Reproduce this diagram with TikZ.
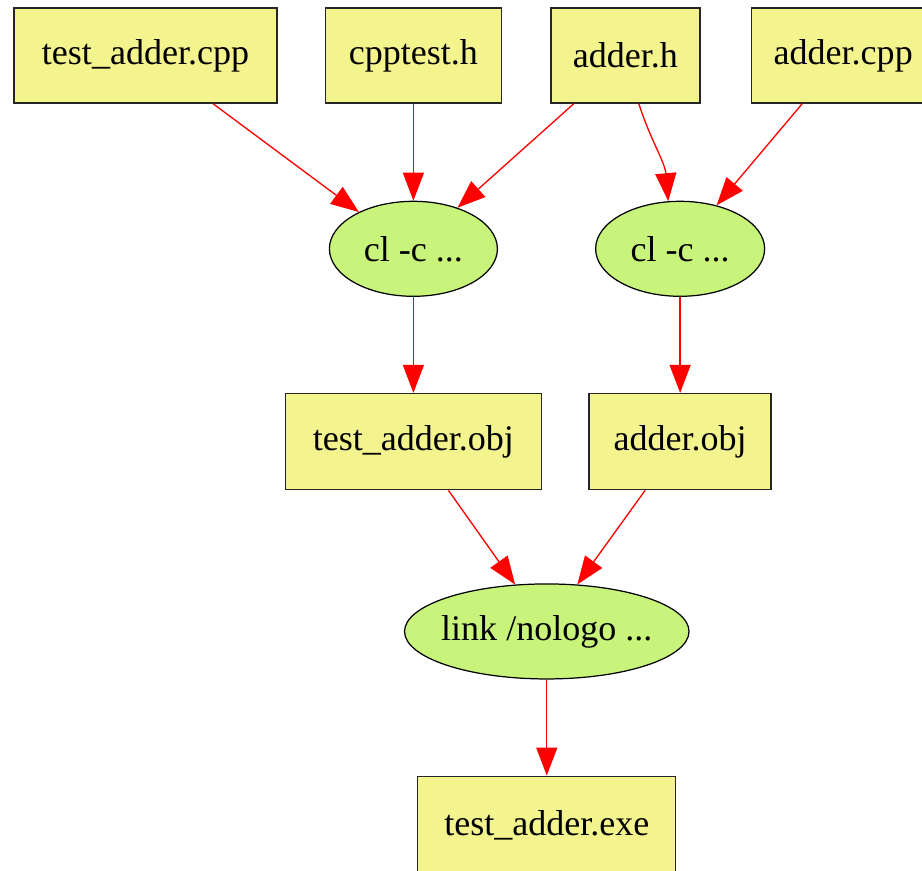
\documentclass[tikz,border=0pt]{standalone}
\usepackage{fontspec}
\setmainfont{Liberation Serif}
\usetikzlibrary{positioning,calc,shapes.geometric,arrows.meta}
\definecolor{filefill}{HTML}{F4F48F}
\definecolor{cmdfill}{HTML}{C9F47B}

\begin{document}
\begin{tikzpicture}[
				file/.style={rectangle, draw=black!85, line width=0.8pt, fill=filefill, minimum height=1.9cm, inner sep=0pt, font=\fontsize{20.5}{24}\selectfont},
				cmd/.style={ellipse, draw=black, line width=0.7pt, fill=cmdfill, minimum width=3.36cm, minimum height=1.9cm, inner sep=0pt, font=\fontsize{20.5}{24}\selectfont},
				dep/.style={draw=red, line width=0.75pt, -{Triangle[length=5.6mm, width=4.2mm]}}
			]
			\useasboundingbox (0,0) rectangle (18.44,-17.42);
			\node[file, minimum width=5.26cm] (tcpp) at (2.91,-1.11) {test\_adder.cpp};
			\node[file, minimum width=3.52cm] (cpptest) [right=0.94cm of tcpp] {cpptest.h};
			\node[file, minimum width=2.98cm] (adderh) [right=0.96cm of cpptest] {adder.h};
			\node[file, minimum width=3.68cm] (addercpp) [right=1cm of adderh] {adder.cpp};
			\node[cmd] (clL) [below=1.94cm of cpptest] {cl -c ...};
			\node[cmd, minimum width=3.38cm] (clR) [right=1.94cm of clL] {cl -c ...};
			\node[file, minimum width=5.12cm, minimum height=1.92cm] (tobj) [below=1.92cm of clL] {test\_adder.obj};
			\node[file, minimum width=3.64cm, minimum height=1.92cm] (aobj) [below=1.92cm of clR] {adder.obj};
			\coordinate (objmid) at ($(tobj.south)!0.5!(aobj.south)$);
			\node[cmd, minimum width=5.64cm, inner xsep=-0.1cm] (link) [below=1.86cm of objmid] {link /nologo ...};
			\node[file, minimum width=5.16cm, minimum height=1.96cm] (exe) [below=1.92cm of link] {test\_adder.exe};
			\begin{scope}[dep]
			\draw ($(tcpp.south)+(1.35,0)$) -- (clL.146);
			\draw (cpptest.south) -- (clL.north);
			\draw ($(adderh.south)+(-1.03,0)$) -- (clL.43);
			\draw ($(adderh.south)+(0.27,0)$) to[out=-72, in=95] (clR.104);
			\draw ($(addercpp.south)+(-0.82,0)$) -- (clR.50);
			\draw (clL.south) -- (tobj.north);
			\draw (clR.south) -- (aobj.north);
			\draw ($(tobj.south)+(0.7,0)$) -- (link.124);
			\draw ($(aobj.south)+(-0.7,0)$) -- (link.57);
			\draw (link.south) -- (exe.north);
			\end{scope}
\end{tikzpicture}
\end{document}
